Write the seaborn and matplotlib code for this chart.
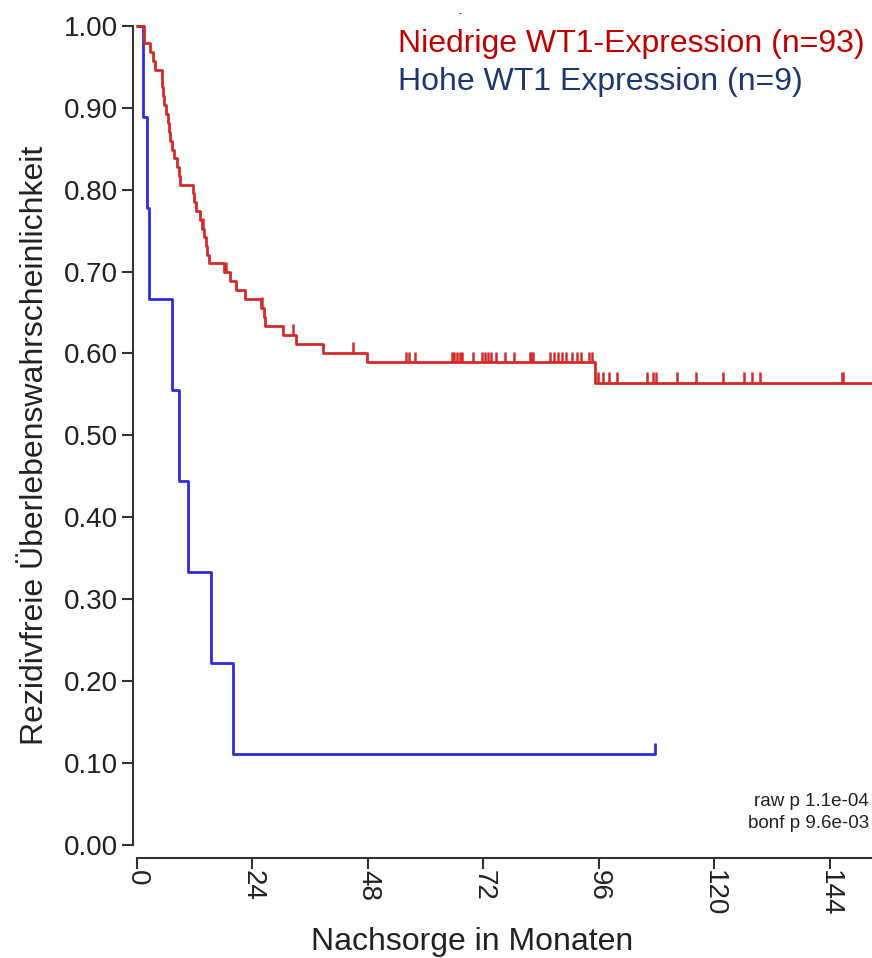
import matplotlib
matplotlib.use("Agg")
import matplotlib.pyplot as plt
import seaborn as sns
import pandas as pd
import numpy as np
from matplotlib import font_manager

# ---------------- data ----------------
red_label = "Niedrige WT1-Expression (n=93)"
blue_label = "Hohe WT1 Expression (n=9)"

red_times = [0, 1.5, 2.8, 3.4, 3.8, 5.1, 5.3, 5.5, 5.7, 6.0, 6.4, 6.6, 6.8, 7.2, 7.7,
             8.4, 8.7, 8.9, 11.6, 11.9, 12.3, 13.0, 13.6, 14.0, 14.3, 14.6, 15.0,
             18.0, 19.4, 20.6, 22.4, 25.8, 26.3, 26.7, 30.3, 33.0, 38.7, 47.8, 95.2, 153.0]
red_surv = [1.0, 0.979, 0.968, 0.957, 0.946, 0.935, 0.925, 0.914, 0.903, 0.892, 0.882,
            0.871, 0.860, 0.849, 0.839, 0.828, 0.817, 0.806, 0.796, 0.785, 0.774, 0.763,
            0.752, 0.742, 0.731, 0.720, 0.710, 0.699, 0.688, 0.677, 0.667, 0.656, 0.645,
            0.634, 0.623, 0.612, 0.601, 0.589, 0.564, 0.564]
red_censor = [13.8, 18.5, 26.0, 32.4, 44.9, 55.9, 56.5, 57.7, 65.4, 66.0, 66.5, 67.1, 67.6,
              69.8, 71.8, 72.3, 72.9, 73.5, 74.6, 76.5, 78.4, 81.6, 82.0, 82.4, 85.9,
              86.7, 87.5, 88.4, 89.2, 90.4, 91.4, 92.4, 94.0, 94.5, 95.9, 96.9, 98.2,
              99.7, 106.0, 107.2, 107.9, 112.2, 116.2, 121.8, 126.1, 127.8, 129.5,
              146.5, 146.8]

blue_times = [0, 1.3, 2.1, 2.6, 7.3, 8.7, 10.6, 15.4, 20.0, 107.7]
blue_surv = [1.0, 0.889, 0.778, 0.667, 0.556, 0.444, 0.333, 0.222, 0.111, 0.111]
blue_censor = [107.7]

x_ticks = [0, 24, 48, 72, 96, 120, 144]
y_ticks = [0.0, 0.1, 0.2, 0.3, 0.4, 0.5, 0.6, 0.7, 0.8, 0.9, 1.0]
p_texts = ["raw p 1.1e-04", "bonf p 9.6e-03"]
x_title = "Nachsorge in Monaten"
y_title = "Rezidivfreie Überlebenswahrscheinlichkeit"

# ---------------- style ----------------
sns.set_theme(style="white")
plt.rcParams["font.family"] = ["Liberation Sans", "DejaVu Sans"]

installed = {f.name for f in font_manager.fontManager.ttflist}
if "Liberation Sans Narrow" in installed:
    title_family = ["Liberation Sans Narrow", "DejaVu Sans"]
    title_size = 28
else:
    title_family = ["Liberation Sans", "DejaVu Sans"]
    title_size = 23

RED = "#d42a2a"
BLUE = "#2d2de0"
RED_TXT = "#c00000"
BLUE_TXT = "#1f3770"
AX_COL = "#333333"

fig = plt.figure(figsize=(8.72, 9.58), dpi=100)
fig.patch.set_facecolor("white")
ax = fig.add_axes([133 / 872, 100 / 958, 739 / 872, 848.5 / 958])
ax.set_facecolor("white")

df = pd.concat([
    pd.DataFrame({"t": red_times, "s": red_surv, "g": red_label}),
    pd.DataFrame({"t": blue_times, "s": blue_surv, "g": blue_label}),
])

sns.lineplot(data=df[df.g == blue_label], x="t", y="s", drawstyle="steps-post",
             color=BLUE, lw=2.0, ax=ax, legend=False, estimator=None)
sns.lineplot(data=df[df.g == red_label], x="t", y="s", drawstyle="steps-post",
             color=RED, lw=2.0, ax=ax, legend=False, estimator=None)

def level_at(times, surv, t):
    idx = np.searchsorted(times, t, side="right") - 1
    return surv[idx]

tick_h = 0.013
rc_y = [level_at(red_times, red_surv, t) for t in red_censor]
ax.vlines(red_censor, rc_y, [y + tick_h for y in rc_y], color=RED, lw=1.8)
bc_y = [level_at(blue_times, blue_surv, t) for t in blue_censor]
ax.vlines(blue_censor, bc_y, [y + tick_h for y in bc_y], color=BLUE, lw=2.0)

ax.set_xlim(-0.83, 152.8)
ax.set_ylim(-0.016, 1.02)

for s in ["top", "right"]:
    ax.spines[s].set_visible(False)
for s in ["left", "bottom"]:
    ax.spines[s].set_color(AX_COL)
    ax.spines[s].set_linewidth(1.5)
ax.spines["left"].set_bounds(0, 1)
ax.spines["bottom"].set_bounds(0, 152.8)

ax.set_xticks(x_ticks)
ax.set_xticklabels([str(v) for v in x_ticks], rotation=-90, fontsize=20, color="#222222")
ax.set_yticks(y_ticks)
ax.set_yticklabels([f"{v:.2f}" for v in y_ticks], fontsize=20, color="#222222")
ax.tick_params(axis="y", direction="out", length=8, width=1.5, color=AX_COL, left=True, pad=3)
ax.tick_params(axis="x", direction="out", length=8, width=1.5, color=AX_COL, bottom=True, pad=1)

ax.set_xlabel(x_title, family=title_family, fontsize=title_size, color="#222222")
ax.set_ylabel(y_title, family=title_family, fontsize=title_size, color="#222222")
ax.xaxis.set_label_coords((472 - 133) / 739, (858 - 927) / 848.5)
ax.yaxis.set_label_coords((50 - 133) / 739, (858 - 445) / 848.5)

fig.text(398 / 872, 1 - 44 / 958, red_label, color=RED_TXT, fontsize=23, va="center", ha="left")
fig.text(398 / 872, 1 - 82 / 958, blue_label, color=BLUE_TXT, fontsize=23, va="center", ha="left")
fig.text(460 / 872, 1 - 14 / 958, ".", color="#222222", fontsize=8, fontweight="bold",
         ha="center", va="baseline")

fig.text(869 / 872, 1 - 801 / 958, p_texts[0], fontsize=13.5, ha="right", va="center", color="#222222")
fig.text(869 / 872, 1 - 823 / 958, p_texts[1], fontsize=13.5, ha="right", va="center", color="#222222")

fig.savefig("out.png", dpi=100, facecolor="white")
